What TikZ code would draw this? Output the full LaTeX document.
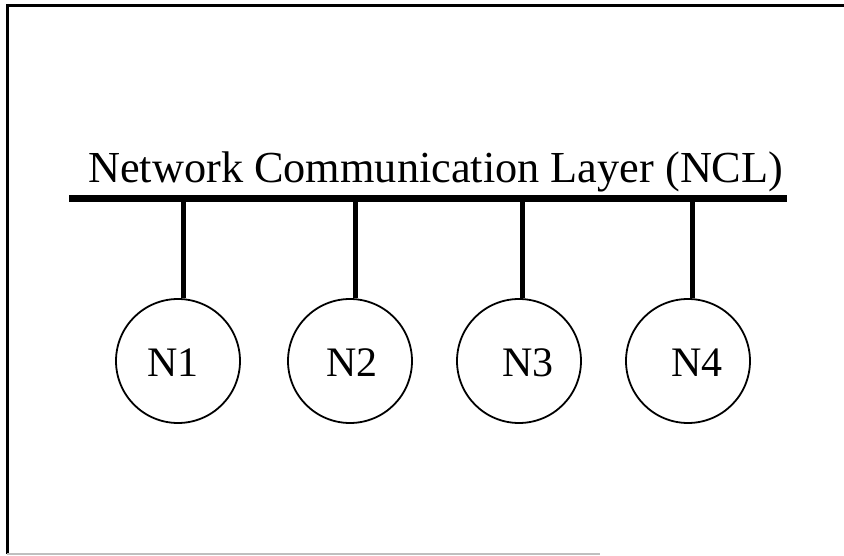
\documentclass[tikz,border=0pt]{standalone}
\usepackage{fontspec}
\setmainfont{Liberation Serif}
\begin{document}
\begin{tikzpicture}[x=1pt,y=-1pt,
  nodecirc/.style={circle,draw,line width=1.8pt,minimum size=124pt,inner sep=0pt},
  nlabel/.style={anchor=base,font=\fontsize{42}{42}\selectfont,inner sep=0pt},
  drop/.style={line width=5pt},
  bus/.style={line width=7pt}]
\useasboundingbox (0,0) rectangle (844,556);
% frame
\coordinate (fTL) at (7,6);
\coordinate (fTR) at (844,6);
\coordinate (fBL) at (7,554);
\coordinate (fBR) at (600,554);
\draw[line width=3pt] (fTR) -- (fTL) -- (fBL);
\draw[line width=2pt,black!25] (fBL) -- (fBR);
% title
\node[anchor=base west,inner sep=0pt,font=\fontsize{44.3}{44}\selectfont] (title) at (88,183) {Network Communication Layer (NCL)};
% bus
\coordinate (busL) at (69,199);
\coordinate (busR) at (787,199);
\draw[bus] (busL) -- (busR);
% nodes
\node[nodecirc] (n1) at (178,361) {};
\node[nodecirc] (n2) at (350,361) {};
\node[nodecirc] (n3) at (519,361) {};
\node[nodecirc] (n4) at (688,361) {};
\node[nlabel] (l1) at (173,376) {N1};
\node[nlabel] (l2) at (352,376) {N2};
\node[nlabel] (l3) at (528,376) {N3};
\node[nlabel] (l4) at (697,376) {N4};
% drops
\coordinate (d1) at (183,199);
\coordinate (d2) at (355,199);
\coordinate (d3) at (522,199);
\coordinate (d4) at (692,199);
\draw[drop] (d1) -- (d1 |- n1.north);
\draw[drop] (d2) -- (d2 |- n2.north);
\draw[drop] (d3) -- (d3 |- n3.north);
\draw[drop] (d4) -- (d4 |- n4.north);
\end{tikzpicture}
\end{document}
